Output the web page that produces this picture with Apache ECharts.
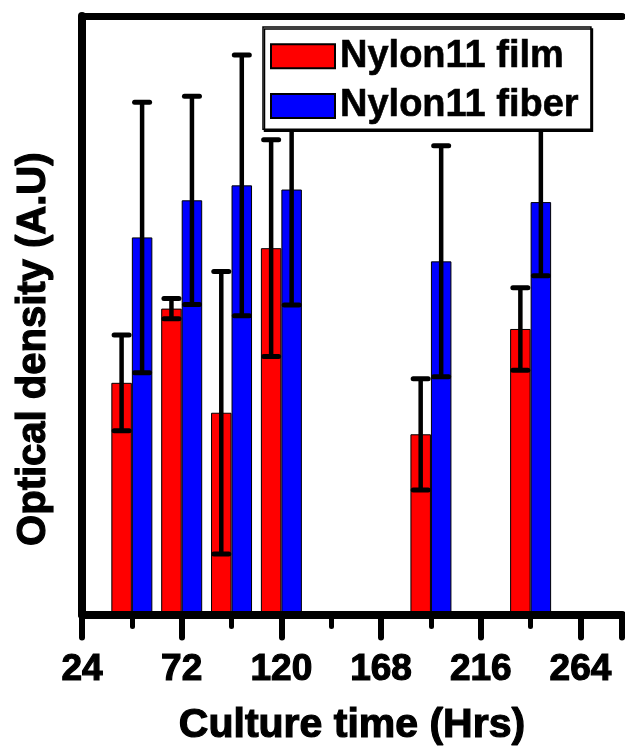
<!DOCTYPE html>
<html>
<head>
<meta charset="utf-8">
<title>Optical density vs culture time</title>
<script src="https://cdn.jsdelivr.net/npm/echarts@6/dist/echarts.min.js"></script>
<style>
  html, body { margin: 0; padding: 0; background: #fff; }
  #chart { width: 625px; height: 752px; }
</style>
</head>
<body>
<div id="chart"></div>
<script>
// Culture times (hours) at which optical density was measured
const hours = [48, 72, 96, 120, 192, 240];

// Nylon11 film: mean optical density and error (A.U)
const filmMean = [0.387, 0.511, 0.337, 0.612, 0.301, 0.477];
const filmErr  = [0.080, 0.017, 0.236, 0.181, 0.093, 0.069];

// Nylon11 fiber: mean optical density and error (A.U)
const fiberMean = [0.630, 0.692, 0.717, 0.710, 0.590, 0.689];
const fiberErr  = [0.226, 0.174, 0.218, 0.193, 0.193, 0.123];

// Tick labels along the time axis
const xTickLabels = [24, 72, 120, 168, 216, 264];

const seriesNames = ['Nylon11 film', 'Nylon11 fiber'];

const FONT = "'Liberation Sans', Arial, Helvetica, sans-serif";
const BAR_WIDTH = 20.5;

const chart = echarts.init(document.getElementById('chart'), null, { renderer: 'canvas' });

function errorBars(shift) {
  return function (params, api) {
    const x = api.value(0);
    const lo = api.coord([x, api.value(1)]);
    const hi = api.coord([x, api.value(2)]);
    const cx = lo[0] + shift;
    const capHalf = 7.5;
    const stem = { stroke: '#000', lineWidth: 4.5, lineCap: 'butt' };
    const cap = { stroke: '#000', lineWidth: 5, lineCap: 'round' };
    return {
      type: 'group',
      children: [
        { type: 'line', shape: { x1: cx, y1: lo[1], x2: cx, y2: hi[1] }, style: stem },
        { type: 'line', shape: { x1: cx - capHalf, y1: hi[1], x2: cx + capHalf, y2: hi[1] }, style: cap },
        { type: 'line', shape: { x1: cx - capHalf, y1: lo[1], x2: cx + capHalf, y2: lo[1] }, style: cap }
      ]
    };
  };
}

const axisMin = xTickLabels[0];
const axisMax = 284;
const axisStep = xTickLabels[1] - xTickLabels[0];

// heavy black lettering used for the axis texts
const heavy = { fontFamily: FONT, fontWeight: 'bold', color: '#000', textBorderColor: '#000', textBorderWidth: 1.2 };

const option = {
  animation: false,
  backgroundColor: '#fff',
  grid: { left: 82, right: 0, top: 16, bottom: 125.5, containLabel: false },
  legend: {
    data: seriesNames,
    orient: 'vertical',
    left: 263,
    top: 27,
    icon: 'rect',
    itemWidth: 64,
    itemHeight: 24,
    itemGap: 11,
    itemTextGap: 11,
    padding: [10, 12, 4, 7],
    backgroundColor: '#fff',
    borderColor: '#000',
    borderWidth: 1.5,
    shadowColor: '#000',
    shadowOffsetX: 1.5,
    shadowOffsetY: 2,
    shadowBlur: 0,
    textStyle: {
      fontFamily: FONT, fontSize: 38, fontWeight: 'bold', color: '#000',
      lineHeight: 38, textBorderColor: '#000', textBorderWidth: 0.6
    }
  },
  xAxis: [
    {
      type: 'value',
      position: 'bottom',
      min: axisMin,
      max: axisMax,
      interval: axisStep,
      z: 10,
      name: 'Culture time (Hrs)',
      nameLocation: 'middle',
      nameGap: 91,
      nameTextStyle: Object.assign({ fontSize: 41 }, heavy),
      axisLine: { show: true, onZero: false, lineStyle: { color: '#000', width: 8, cap: 'round' } },
      axisTick: { show: true, length: 23, lineStyle: { color: '#000', width: 6, cap: 'round' } },
      minorTick: { show: true, splitNumber: 2, length: 12, lineStyle: { color: '#000', width: 5, cap: 'round' } },
      axisLabel: Object.assign({
        margin: 37,
        fontSize: 37,
        formatter: function (v) { return xTickLabels.indexOf(v) >= 0 ? String(v) : ''; }
      }, heavy),
      splitLine: { show: false }
    },
    {
      type: 'value',
      position: 'top',
      min: axisMin,
      max: axisMax,
      interval: axisStep,
      z: 10,
      axisLine: { show: true, onZero: false, lineStyle: { color: '#000', width: 7, cap: 'round' } },
      axisTick: { show: false },
      axisLabel: { show: false },
      splitLine: { show: false }
    }
  ],
  yAxis: {
    type: 'value',
    min: 0,
    max: 1,
    z: 10,
    name: 'Optical density (A.U)',
    nameLocation: 'middle',
    nameGap: 28,
    nameTextStyle: Object.assign({ fontSize: 40, padding: [0, 68, 0, 0] }, heavy),
    axisLine: { show: true, onZero: false, lineStyle: { color: '#000', width: 8, cap: 'round' } },
    axisTick: { show: false },
    axisLabel: { show: false },
    splitLine: { show: false }
  },
  series: [
    {
      name: seriesNames[0],
      type: 'bar',
      xAxisIndex: 0,
      barWidth: BAR_WIDTH,
      barGap: '0%',
      z: 2,
      itemStyle: { color: '#ff0000', borderColor: '#000', borderWidth: 1 },
      data: hours.map((h, i) => [h, filmMean[i]])
    },
    {
      name: seriesNames[1],
      type: 'bar',
      xAxisIndex: 0,
      barWidth: BAR_WIDTH,
      barGap: '0%',
      z: 2,
      itemStyle: { color: '#0000ff', borderColor: '#000', borderWidth: 1 },
      data: hours.map((h, i) => [h, fiberMean[i]])
    },
    {
      name: 'film error',
      type: 'custom',
      xAxisIndex: 0,
      z: 3,
      silent: true,
      renderItem: errorBars(-BAR_WIDTH / 2),
      data: hours.map((h, i) => [h, filmMean[i] - filmErr[i], filmMean[i] + filmErr[i]])
    },
    {
      name: 'fiber error',
      type: 'custom',
      xAxisIndex: 0,
      z: 3,
      silent: true,
      renderItem: errorBars(BAR_WIDTH / 2),
      data: hours.map((h, i) => [h, fiberMean[i] - fiberErr[i], fiberMean[i] + fiberErr[i]])
    }
  ]
};

chart.setOption(option);
</script>
</body>
</html>
